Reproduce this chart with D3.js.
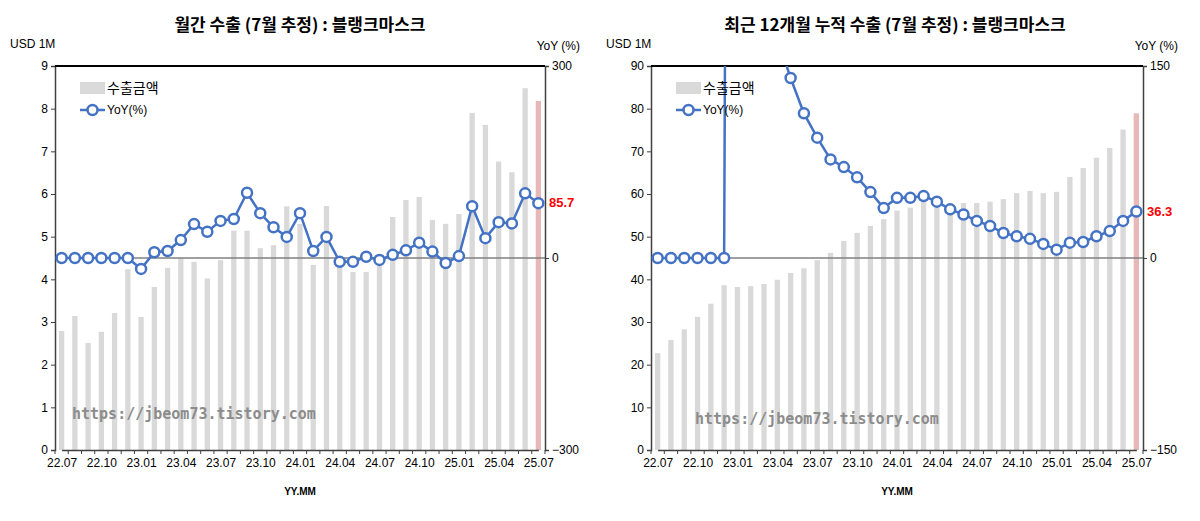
<!DOCTYPE html>
<html><head><meta charset="utf-8">
<script src="https://cdn.jsdelivr.net/npm/d3@7"></script>
<style>body{margin:0;background:#fff}svg{font-family:"Malgun Gothic","Noto Sans CJK KR",sans-serif}</style>
</head><body><svg id="c" width="1200" height="521"></svg>
<script>
const months = ["22.07","22.08","22.09","22.10","22.11","22.12","23.01","23.02","23.03","23.04","23.05","23.06","23.07","23.08","23.09","23.10","23.11","23.12","24.01","24.02","24.03","24.04","24.05","24.06","24.07","24.08","24.09","24.10","24.11","24.12","25.01","25.02","25.03","25.04","25.05","25.06","25.07"];
const tickLabels = ["22.07","22.10","23.01","23.04","23.07","23.10","24.01","24.04","24.07","24.10","25.01","25.04","25.07"];
const monthlyExport = [2.79,3.14,2.51,2.77,3.21,4.24,3.12,3.82,4.27,4.5,4.41,4.02,4.45,5.14,5.14,4.73,4.8,5.71,5.3,4.34,5.72,4.45,4.17,4.17,4.45,5.46,5.86,5.93,5.39,5.3,5.53,7.9,7.62,6.76,6.51,8.48,8.18];
const monthlyYoY = [0,0,0,0,0,0,-17,9,11,28,53,41,58,61,102,70,48,33,70,11,33,-6,-6,2,-3,5,12,24,10,-8,3,81,31,56,54,101,85.7];
const cumExport = [22.7,25.8,28.3,31.2,34.3,38.6,38.2,38.4,38.9,39.9,41.5,42.6,44.5,46.2,49,50.9,52.5,54.1,56.1,56.8,59.3,57.9,57.4,57.9,57.9,58.2,58.8,60.2,60.7,60.2,60.5,64,66.1,68.5,70.8,75.1,78.9];
const cumYoY = [0,0,0,0,0,0,2500,600,300,172,140.6,113,94,77,71,63,51.5,39,47,47,48.4,44,38,34,29,25,19.5,17,15,11,6.5,12,12.5,17,21,29,36.3];

const svg = d3.select("#c");
function panel(o){
  const x0=o.x0,x1=o.x1,y0=66,y1=450;
  const g=svg.append("g");
  g.append("text").attr("x",o.tx).attr("y",31).attr("text-anchor","middle").attr("font-size",17).attr("font-weight","bold").text(o.title);
  const x=d3.scaleBand().domain(months).range([x0,x1]).paddingInner(0.6).paddingOuter(0.3);
  const y=d3.scaleLinear().domain([0,o.ymax]).range([y1,y0]);
  const y2=d3.scaleLinear().domain([-o.rmax,o.rmax]).range([y1,y0]);
  g.append("text").attr("x",o.x0-45).attr("y",48).attr("font-size",12).attr("font-family","Arial").text("USD 1M");
  g.append("text").attr("x",x1+35).attr("y",50).attr("text-anchor","end").attr("font-size",12).attr("font-family","Arial").text("YoY (%)");
  // bars
  g.selectAll("rect.b").data(o.bars).join("rect").attr("x",(d,i)=>x(months[i])).attr("width",x.bandwidth())
    .attr("y",d=>y(d)).attr("height",d=>y1-y(d)).attr("fill",(d,i)=>i==months.length-1?"#e6b8b7":"#d9d9d9");
  // zero line
  g.append("line").attr("x1",x0).attr("x2",x1).attr("y1",y2(0)).attr("y2",y2(0)).attr("stroke","#808080").attr("stroke-width",1.5);
  // axes
  const la=d3.axisLeft(y).ticks(o.ymax/o.ystep).tickSize(4);
  const ga=g.append("g").attr("transform",`translate(${x0},0)`).call(la);
  const ra=d3.axisRight(y2).tickValues([-o.rmax,0,o.rmax]).tickSize(4);
  const gr=g.append("g").attr("transform",`translate(${x1},0)`).call(ra);
  const xa=d3.axisBottom(d3.scalePoint().domain(months).range([x0+x.step()*0.5,x1-x.step()*0.5])).tickValues(tickLabels).tickSize(0);
  const gx=g.append("g").attr("transform",`translate(0,${y1})`).call(xa);
  [ga,gr,gx].forEach(a=>{a.selectAll("text").attr("font-size",12).attr("font-family","Arial").attr("fill","#000");a.select(".domain").attr("stroke","#404040").attr("stroke-width",1.5);a.selectAll(".tick line").attr("stroke","#404040");});
  gx.selectAll("text").attr("dy","1.2em");
  g.selectAll("line.xt").data(months.concat(["end"])).join("line").attr("x1",(d,i)=>x0+i*x.step()).attr("x2",(d,i)=>x0+i*x.step()).attr("y1",y1).attr("y2",y1+4).attr("stroke","#404040");
  g.append("line").attr("x1",x0).attr("x2",x1).attr("y1",y0).attr("y2",y0).attr("stroke","#000").attr("stroke-width",2);
  g.append("text").attr("x",(x0+x1)/2).attr("y",495).attr("text-anchor","middle").attr("font-size",10).attr("font-weight","bold").attr("font-family","Arial").text("YY.MM");
  // watermark
  g.append("text").attr("x",o.wx).attr("y",o.wy).attr("font-size",15).attr("font-weight","bold").attr("fill","#8c8c8c").attr("font-family","DejaVu Sans Mono").text("https://jbeom73.tistory.com");
  // line
  const cid="clip"+o.id;
  svg.append("clipPath").attr("id",cid).append("rect").attr("x",x0-10).attr("y",y0).attr("width",x1-x0+20).attr("height",y1-y0);
  const lg=g.append("g").attr("clip-path",`url(#${cid})`);
  const cx=i=>x(months[i])+x.bandwidth()/2;
  lg.append("path").datum(o.yoy).attr("d",d3.line().x((d,i)=>cx(i)).y(d=>y2(d))).attr("fill","none").attr("stroke","#4472c4").attr("stroke-width",2.5);
  lg.selectAll("circle").data(o.yoy).join("circle").attr("cx",(d,i)=>cx(i)).attr("cy",d=>y2(d)).attr("r",5).attr("fill","#fff").attr("stroke","#4472c4").attr("stroke-width",2.5);
  g.append("text").attr("x",x1+4).attr("y",y2(o.yoy[o.yoy.length-1])+4).attr("font-size",13).attr("font-weight","bold").attr("fill","#ff0000").attr("font-family","Arial").text(o.yoy[o.yoy.length-1]);
  // legend
  const lx=x0+25;
  g.append("rect").attr("x",lx).attr("y",82).attr("width",25).attr("height",12).attr("fill","#d9d9d9");
  g.append("text").attr("x",lx+27).attr("y",93).attr("font-size",14).text("수출금액");
  g.append("line").attr("x1",lx).attr("x2",lx+25).attr("y1",110).attr("y2",110).attr("stroke","#4472c4").attr("stroke-width",2.5);
  g.append("circle").attr("cx",lx+12.5).attr("cy",110).attr("r",5).attr("fill","#fff").attr("stroke","#4472c4").attr("stroke-width",2.5);
  g.append("text").attr("x",lx+27).attr("y",114).attr("font-size",12).attr("font-family","Arial").text("YoY(%)");
}
panel({id:1,x0:55,x1:545,tx:300,title:"월간 수출 (7월 추정) : 블랭크마스크",ymax:9,ystep:1,rmax:300,bars:monthlyExport,yoy:monthlyYoY,wx:72,wy:419});
panel({id:2,x0:651,x1:1143,tx:895,title:"최근 12개월 누적 수출 (7월 추정) : 블랭크마스크",ymax:90,ystep:10,rmax:150,bars:cumExport,yoy:cumYoY,wx:695,wy:424});
</script></body></html>
